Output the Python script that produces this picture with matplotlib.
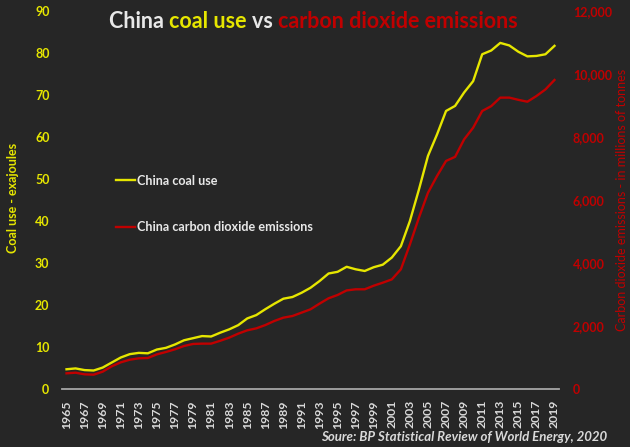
import matplotlib
matplotlib.use('Agg')
import matplotlib.pyplot as plt
from matplotlib.lines import Line2D
from matplotlib.ticker import FuncFormatter

# ---- data ----
years = list(range(1965, 2020))
coal_ej = [4.7, 4.9, 4.5, 4.4, 5.1, 6.3, 7.5, 8.3, 8.6, 8.5,
           9.4, 9.8, 10.6, 11.6, 12.1, 12.6, 12.5, 13.4, 14.2, 15.2,
           16.8, 17.6, 19.0, 20.3, 21.5, 21.9, 22.9, 24.1, 25.7, 27.5,
           27.9, 29.1, 28.5, 28.1, 29.0, 29.6, 31.3, 34.0, 40.0, 47.5,
           55.5, 60.6, 66.2, 67.4, 70.6, 73.3, 79.7, 80.6, 82.4, 81.8,
           80.3, 79.2, 79.3, 79.7, 81.7]
co2_mt = [498, 518, 466, 455, 550, 720, 846, 930, 974, 984,
          1100, 1175, 1260, 1365, 1430, 1440, 1440, 1530, 1630, 1757,
          1863, 1925, 2030, 2160, 2265, 2317, 2423, 2530, 2710, 2880,
          2985, 3130, 3165, 3165, 3280, 3375, 3480, 3800, 4590, 5440,
          6230, 6760, 7240, 7370, 7925, 8295, 8825, 8980, 9250, 9250,
          9180, 9120, 9300, 9510, 9810]
tick_years = years[::2]
coal_label = "China coal use"
co2_label = "China carbon dioxide emissions"
left_title = "Coal use - exajoules"
right_title = "Carbon dioxide emissions - in millions of tonnes"
source = "Soure: BP Statistical Review of World Energy, 2020"

BG = '#262626'
YEL = '#E6E600'
RED = '#C00000'
TXT = '#E8E8E8'
GREY = '#D9D9D9'

plt.rcParams['font.family'] = ['Lato', 'DejaVu Sans']

W, H = 630, 447
fig = plt.figure(figsize=(W / 100, H / 100), dpi=100, facecolor=BG)
ax = fig.add_axes([62 / W, 1 - 389 / H, (559 - 62) / W, (389 - 11) / H])
ax.set_facecolor(BG)
xs = list(range(len(years)))
l1, = ax.plot(xs, coal_ej, color=YEL, lw=1.7, solid_joinstyle='round')
ax.set_xlim(-0.5, len(years) - 0.5)
ax.set_ylim(0, 90)
ax.set_yticks(range(0, 91, 10))
ax.set_xticks(xs[::2])
ax.set_xticklabels([str(y) for y in tick_years], rotation=90,
                   fontsize=8.8, fontweight='bold', color=GREY)
ax.tick_params(axis='x', length=0, pad=8)
ax.tick_params(axis='y', length=0, pad=9, labelsize=9, labelcolor=YEL)
for lab in ax.get_yticklabels():
    lab.set_fontweight('bold')
for s in ['top', 'left', 'right']:
    ax.spines[s].set_visible(False)
ax.spines['bottom'].set_color('#A6A6A6')
ax.spines['bottom'].set_linewidth(1.3)

ax2 = ax.twinx()
l2, = ax2.plot(xs, co2_mt, color=RED, lw=1.7, solid_joinstyle='round')
ax2.set_ylim(0, 12000)
ax2.set_yticks(range(0, 12001, 2000))
ax2.yaxis.set_major_formatter(FuncFormatter(lambda v, p: f'{v:,.0f}'))
ax2.tick_params(axis='y', length=0, pad=10, labelsize=9, labelcolor=RED)
for lab in ax2.get_yticklabels():
    lab.set_fontweight('bold')
for s in ax2.spines.values():
    s.set_visible(False)

# axis titles
fig.text(13 / W, 1 - 198 / H, left_title, rotation=90, ha='center', va='center',
         color=YEL, fontsize=9, fontweight='bold')
fig.text(622 / W, 1 - 200 / H, right_title, rotation=90, ha='center', va='center',
         color=RED, fontsize=9)

# legend
leg = fig.legend([Line2D([], [], color=YEL, lw=1.7), Line2D([], [], color=RED, lw=1.7)],
                 [coal_label, co2_label], loc='center left',
                 bbox_to_anchor=(116 / W, 1 - 204 / H), frameon=False,
                 fontsize=9.1, handlelength=1.5, handletextpad=0.2,
                 labelspacing=2.75, borderpad=0, borderaxespad=0)
for t in leg.get_texts():
    t.set_color(TXT)
    t.set_fontweight('bold')

# source
fig.text(607 / W, 1 - 437 / H, source, ha='right', va='center', color=GREY,
         fontsize=9.5, fontweight='bold', fontstyle='italic')

# multi-coloured title
parts = [("China ", TXT), ("coal use ", YEL), ("vs ", TXT),
         ("carbon dioxide emissions", RED)]
ty = 1 - 22 / H
texts = []
for s, c in parts:
    t = fig.text(0, ty, s, color=c, fontsize=15.5, fontweight='bold',
                 va='center', ha='left')
    texts.append(t)
fig.canvas.draw()
r = fig.canvas.get_renderer()
widths = [t.get_window_extent(r).width for t in texts]
total = sum(widths)
x0 = 313 - total / 2
for t, w in zip(texts, widths):
    t.set_position((x0 / W, ty))
    x0 += w

fig.savefig('out.png', dpi=100, facecolor=BG)
